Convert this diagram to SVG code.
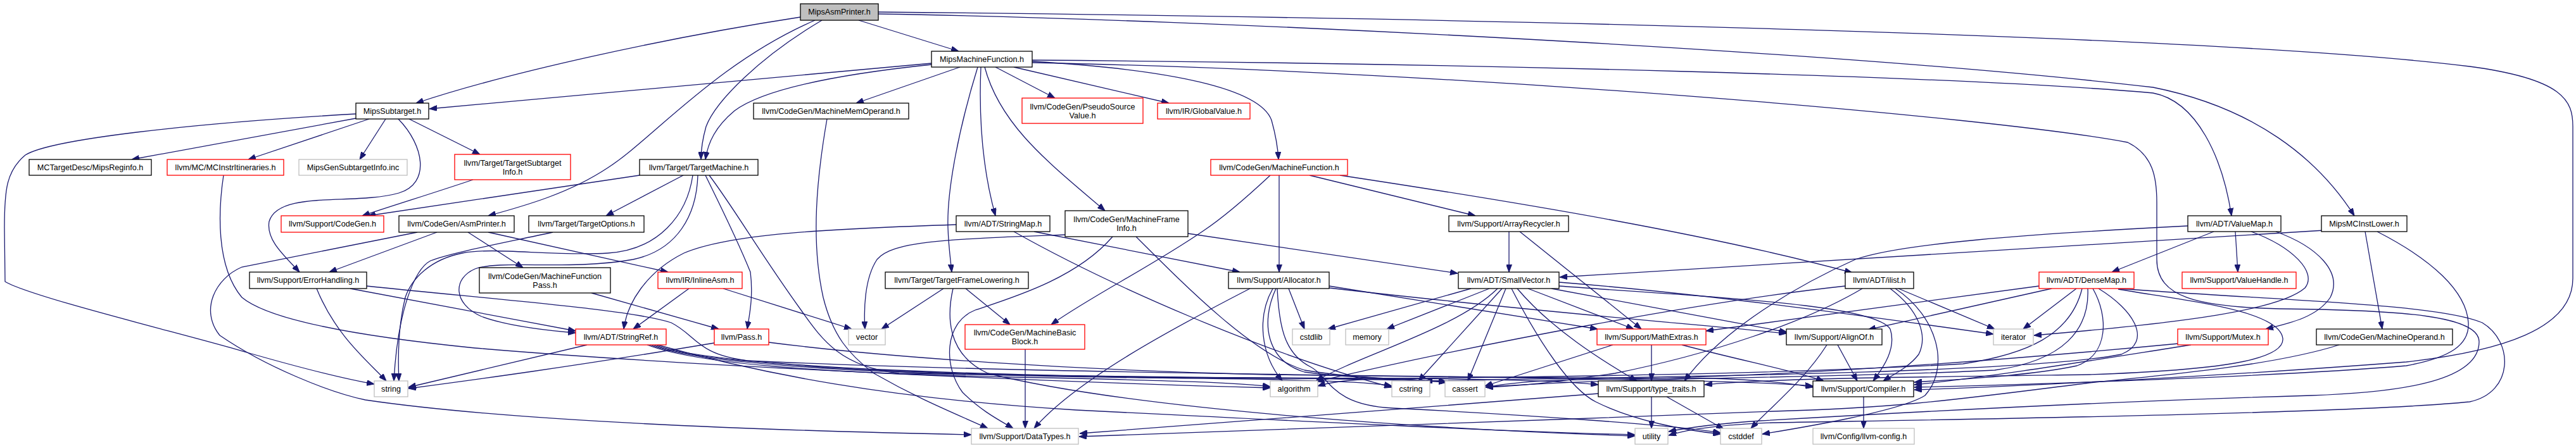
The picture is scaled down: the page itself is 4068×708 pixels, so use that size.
<svg xmlns="http://www.w3.org/2000/svg" width="4068" height="708" viewBox="0 0 4068 708">
<style>
.e{fill:none;stroke:#191970;stroke-width:1.3;marker-end:url(#arr)}
rect{stroke-width:1.3}
.k rect{fill:#fff;stroke:#000}
.r rect{fill:#fff;stroke:#f00}
.g rect{fill:#fff;stroke:#bfbfbf}
.root rect{fill:#bfbfbf;stroke:#000}
text{font-family:"Liberation Sans",Arial,Helvetica,sans-serif;font-size:12.6px;text-anchor:middle;fill:#000}
</style>
<defs>
<marker id="arr" markerWidth="12" markerHeight="9" refX="12" refY="4.5" orient="auto" markerUnits="userSpaceOnUse"><path d="M0,0 L12,4.5 L0,9 z" fill="#191970" stroke="#191970" stroke-width="1"/></marker>
</defs>
<rect x="0" y="0" width="4068" height="708" fill="#fff"/>
<g id="edges">
<path class="e" d="M1264,27 C1050,60 800,115 657,163"/>
<path class="e" d="M1356,32 L1514,81"/>
<path class="e" d="M1287,32 C1130,100 1030,220 960,265 C900,305 830,325 771,341"/>
<path class="e" d="M1298,32 C1200,90 1130,160 1115,200 C1108,225 1107,238 1107,252"/>
<path class="e" d="M1387,22 C1900,30 2900,80 3400,138 C3560,170 3660,250 3718,341"/>
<path class="e" d="M1387,19 C2300,28 3500,55 3900,105 C4050,125 4063,160 4063,200 L4063,440 C4063,520 3950,555 3800,572 C3500,595 3200,610 3023,616"/>
<path class="e" d="M1471,100 L678,172"/>
<path class="e" d="M1471,102 C1300,120 1200,145 1160,175 C1130,200 1118,225 1114,252"/>
<path class="e" d="M1516,106 L1352,163"/>
<path class="e" d="M1549,106 C1545,200 1555,280 1572,341"/>
<path class="e" d="M1544,106 C1515,200 1495,300 1497,360 C1498,390 1501,410 1503,430"/>
<path class="e" d="M1555,106 C1580,200 1660,260 1745,333"/>
<path class="e" d="M1572,106 L1666,155"/>
<path class="e" d="M1601,106 L1846,163"/>
<path class="e" d="M1630,97 C1850,110 1990,140 2008,190 C2015,215 2018,235 2019,252"/>
<path class="e" d="M1630,95 C2300,100 3100,120 3400,147 C3470,160 3510,250 3524,341"/>
<path class="e" d="M1630,99 C2300,112 3150,185 3360,225 C3400,245 3406,280 3406,320 L3406,410 C3406,470 3470,485 3600,488 C3800,490 3915,500 3915,540 C3915,600 3800,620 3650,625 C3300,635 2950,655 2780,665 C2720,669 2670,675 2635,682"/>
<path class="e" d="M562,187 L208,252"/>
<path class="e" d="M583,188 L392,252"/>
<path class="e" d="M609,188 L568,252"/>
<path class="e" d="M646,188 L758,244"/>
<path class="e" d="M629,188 C670,230 680,290 630,305 C560,325 440,300 425,350 C420,380 450,405 473,430"/>
<path class="e" d="M562,180 C300,195 80,220 40,245 C10,270 7,300 7,360 L8,445 C50,470 300,530 390,557 C470,580 540,598 591,607"/>
<path class="e" d="M353,277 C345,330 340,420 382,470 C430,510 600,535 750,550 C1100,580 1700,605 2006,613"/>
<path class="e" d="M747,284 C700,300 620,325 572,341"/>
<path class="e" d="M1010,277 L581,341"/>
<path class="e" d="M1079,277 L957,341"/>
<path class="e" d="M1102,277 C1100,340 1070,395 1000,410 C900,428 790,410 750,425 C715,440 715,480 760,500 C800,515 860,522 909,526"/>
<path class="e" d="M1094,277 C1085,340 1040,395 960,400 C870,405 780,390 730,400 C680,410 650,440 640,470 C630,510 628,560 630,602"/>
<path class="e" d="M1114,277 C1140,330 1165,380 1185,430 C1190,470 1183,500 1180,520"/>
<path class="e" d="M1120,277 C1160,330 1200,400 1265,490 C1300,540 1330,580 1420,590 C1800,597 2200,597 2284,604"/>
<path class="e" d="M690,367 L520,430"/>
<path class="e" d="M659,367 L382,422 C340,440 315,490 347,530 C420,580 520,620 577,632 C800,665 1200,680 1534,687"/>
<path class="e" d="M739,367 L826,423"/>
<path class="e" d="M771,367 L1055,430"/>
<path class="e" d="M873,367 C790,385 710,400 680,412 C655,425 628,490 622,602"/>
<path class="e" d="M500,456 C530,530 580,570 610,602"/>
<path class="e" d="M553,456 L909,523"/>
<path class="e" d="M579,452 C800,475 1000,490 1060,510 C1100,530 1100,560 1180,570 C1600,590 2400,597 2700,598 C2780,600 2830,606 2863,612"/>
<path class="e" d="M934,463 L1135,520"/>
<path class="e" d="M1088,456 L1000,520"/>
<path class="e" d="M1142,456 L1345,520"/>
<path class="e" d="M927,545 L645,612"/>
<path class="e" d="M1022,545 C1100,575 1300,590 1600,596 C1850,601 1960,605 2006,611"/>
<path class="e" d="M1026,545 C1110,578 1400,592 1800,597 C2050,599 2160,603 2198,610"/>
<path class="e" d="M1030,545 C1120,580 1500,594 1900,597 C2150,599 2240,598 2285,604"/>
<path class="e" d="M1034,545 C1130,582 1600,596 2000,597 C2300,598 2450,600 2524,608"/>
<path class="e" d="M1038,545 C1200,590 1400,630 1700,648 C2100,668 2400,683 2582,687"/>
<path class="e" d="M1128,542 C900,580 750,600 645,614"/>
<path class="e" d="M1214,541 C1400,565 1700,585 2000,592 C2400,597 2750,600 2863,610"/>
<path class="e" d="M1490,456 L1392,520"/>
<path class="e" d="M1525,456 L1595,513"/>
<path class="e" d="M1505,456 C1495,500 1495,560 1560,590 C1800,650 2300,680 2582,689"/>
<path class="e" d="M1682,371 C1500,378 1410,380 1385,410 C1365,440 1364,490 1366,520"/>
<path class="e" d="M1757,374 C1700,440 1600,470 1540,490 C1490,510 1490,580 1520,620 C1550,650 1580,665 1600,677"/>
<path class="e" d="M1794,374 C1880,460 1980,560 2060,585 C2150,600 2240,598 2285,604"/>
<path class="e" d="M1876,369 L2302,432"/>
<path class="e" d="M1510,355 C1300,362 1150,370 1080,400 C1020,430 990,480 985,520"/>
<path class="e" d="M1633,366 L1958,430"/>
<path class="e" d="M1601,366 C1750,450 2000,560 2198,612"/>
<path class="e" d="M2006,277 C1960,320 1930,345 1900,365 C1820,420 1720,470 1660,513"/>
<path class="e" d="M2020,277 L2020,430"/>
<path class="e" d="M2068,277 L2330,341"/>
<path class="e" d="M2116,277 C2400,320 2700,370 2925,431"/>
<path class="e" d="M2383,366 L2383,430"/>
<path class="e" d="M2400,366 L2592,520"/>
<path class="e" d="M3496,366 L3335,430"/>
<path class="e" d="M3530,366 L3534,430"/>
<path class="e" d="M3555,366 C3620,390 3660,430 3640,455 C3600,490 3450,510 3212,530"/>
<path class="e" d="M3594,366 C3660,390 3700,430 3680,470 C3660,500 3620,510 3578,520"/>
<path class="e" d="M3455,357 C3200,370 3000,385 2930,410 C2840,450 2720,520 2660,602"/>
<path class="e" d="M3735,366 L3762,520"/>
<path class="e" d="M3670,364 L2463,438"/>
<path class="e" d="M3754,366 C3840,410 3895,460 3898,510 C3900,545 3870,565 3800,578 C3600,595 3200,608 3023,612"/>
<path class="e" d="M2323,456 L2097,520"/>
<path class="e" d="M2352,456 L2190,520"/>
<path class="e" d="M2365,456 C2300,520 2150,560 2078,602"/>
<path class="e" d="M2372,456 L2240,602"/>
<path class="e" d="M2378,456 L2318,602"/>
<path class="e" d="M2387,456 C2430,540 2480,615 2520,635 C2580,665 2660,680 2717,686"/>
<path class="e" d="M2396,456 C2450,520 2530,570 2585,602"/>
<path class="e" d="M2413,456 L2580,520"/>
<path class="e" d="M2450,456 L2822,525"/>
<path class="e" d="M2462,446 C2700,465 2950,500 3148,528"/>
<path class="e" d="M2462,452 C2700,470 2960,480 2985,520 C2995,550 2975,580 2958,602"/>
<path class="e" d="M2914,452 C2700,475 2350,540 2079,603"/>
<path class="e" d="M2941,456 C2850,510 2700,560 2550,590 C2450,605 2400,610 2346,612"/>
<path class="e" d="M2985,456 C3030,490 3045,530 3030,560 C3015,580 2990,592 2974,602"/>
<path class="e" d="M2993,456 C3060,500 3080,580 3040,625 C3000,650 2850,675 2783,686"/>
<path class="e" d="M2998,456 L3150,520"/>
<path class="e" d="M3240,456 L2950,521"/>
<path class="e" d="M3220,452 L2694,523"/>
<path class="e" d="M3279,456 L3195,520"/>
<path class="e" d="M3288,456 C3270,530 3200,560 3100,575 C2800,592 2400,596 2200,598 C2130,599 2100,604 2081,610"/>
<path class="e" d="M3297,456 C3300,520 3260,570 3150,585 C2900,598 2550,596 2346,612"/>
<path class="e" d="M3305,456 C3330,500 3330,560 3280,578 C3200,595 3080,600 3023,604"/>
<path class="e" d="M3314,456 C3370,490 3400,540 3350,560 C3200,590 2600,596 2250,602"/>
<path class="e" d="M3345,456 C3600,475 3850,480 3920,510 C3970,540 3970,620 3900,635 C3700,655 3000,664 2800,668 C2720,671 2670,677 2635,688"/>
<path class="e" d="M3345,457 C3450,475 3600,490 3605,535 C3608,570 3500,585 3300,592 C3000,596 2800,598 2692,608"/>
<path class="e" d="M1619,552 L1619,677"/>
<path class="e" d="M1974,456 C1850,520 1700,600 1633,677"/>
<path class="e" d="M2010,456 C1985,500 1990,560 2025,602"/>
<path class="e" d="M2015,456 C1990,510 2000,570 2060,588 C2150,600 2230,598 2284,604"/>
<path class="e" d="M2035,456 L2060,520"/>
<path class="e" d="M2099,452 L2523,520"/>
<path class="e" d="M2099,455 C2400,490 2650,510 2821,527"/>
<path class="e" d="M2017,456 C2020,520 2030,560 2070,580 C2100,595 2100,640 2200,645 C2400,655 2650,672 2717,684"/>
<path class="e" d="M2608,545 L2608,602"/>
<path class="e" d="M2547,545 L2345,610"/>
<path class="e" d="M2656,545 C2750,570 2830,585 2880,602"/>
<path class="e" d="M2524,622 C2300,640 1900,670 1705,685"/>
<path class="e" d="M2608,627 L2608,677"/>
<path class="e" d="M2632,627 L2722,678"/>
<path class="e" d="M2902,545 L2933,602"/>
<path class="e" d="M2885,545 C2850,600 2800,640 2765,677"/>
<path class="e" d="M2943,627 L2943,677"/>
<path class="e" d="M3460,545 C3300,570 3150,595 3023,608"/>
<path class="e" d="M3440,543 C3000,585 2700,598 2500,600 C2420,601 2380,606 2346,612"/>
<path class="e" d="M3694,545 C3600,575 3450,590 3300,605 C3100,630 3000,645 2800,650 C2400,665 1900,685 1704,690"/>
<path class="e" d="M1306,188 C1290,280 1280,380 1300,470 C1315,530 1340,560 1380,590 C1450,630 1500,650 1560,677"/>
</g>
<g id="n_MipsAsmPrinter" class="root"><rect x="1264" y="6" width="123" height="26"/><text x="1325.5" y="23.3">MipsAsmPrinter.h</text></g>
<g id="n_MipsMachineFunction" class="k"><rect x="1471" y="81" width="159" height="25"/><text x="1550.5" y="97.8">MipsMachineFunction.h</text></g>
<g id="n_MipsSubtarget" class="k"><rect x="562" y="163" width="115" height="25"/><text x="619.5" y="179.8">MipsSubtarget.h</text></g>
<g id="n_MipsReginfo" class="k"><rect x="46" y="252" width="193" height="25"/><text x="142.5" y="268.8">MCTargetDesc/MipsReginfo.h</text></g>
<g id="n_MCInstrItineraries" class="r"><rect x="264" y="252" width="184" height="25"/><text x="356" y="268.8">llvm/MC/MCInstrItineraries.h</text></g>
<g id="n_MipsGenSubtargetInfo" class="g"><rect x="472" y="252" width="171" height="25"/><text x="557.5" y="268.8">MipsGenSubtargetInfo.inc</text></g>
<g id="n_TargetSubtargetInfo" class="r"><rect x="718" y="244" width="183" height="40"/><text x="809.5" y="261.5">llvm/Target/TargetSubtarget</text><text x="809.5" y="275.5">Info.h</text></g>
<g id="n_TargetMachine" class="k"><rect x="1010" y="252" width="187" height="25"/><text x="1103.5" y="268.8">llvm/Target/TargetMachine.h</text></g>
<g id="n_MachineMemOperand" class="k"><rect x="1190" y="163" width="245" height="25"/><text x="1312.5" y="179.8">llvm/CodeGen/MachineMemOperand.h</text></g>
<g id="n_PseudoSourceValue" class="r"><rect x="1614" y="155" width="191" height="40"/><text x="1709.5" y="172.5">llvm/CodeGen/PseudoSource</text><text x="1709.5" y="186.5">Value.h</text></g>
<g id="n_GlobalValue" class="r"><rect x="1828" y="163" width="146" height="25"/><text x="1901" y="179.8">llvm/IR/GlobalValue.h</text></g>
<g id="n_MachineFunction" class="r"><rect x="1912" y="252" width="216" height="25"/><text x="2020" y="268.8">llvm/CodeGen/MachineFunction.h</text></g>
<g id="n_CodeGen" class="r"><rect x="444" y="341" width="162" height="26"/><text x="525" y="358.3">llvm/Support/CodeGen.h</text></g>
<g id="n_AsmPrinter" class="k"><rect x="630" y="341" width="182" height="26"/><text x="721" y="358.3">llvm/CodeGen/AsmPrinter.h</text></g>
<g id="n_TargetOptions" class="k"><rect x="835" y="341" width="182" height="26"/><text x="926" y="358.3">llvm/Target/TargetOptions.h</text></g>
<g id="n_StringMap" class="k"><rect x="1510" y="341" width="148" height="25"/><text x="1584" y="357.8">llvm/ADT/StringMap.h</text></g>
<g id="n_MachineFrameInfo" class="k"><rect x="1682" y="333" width="194" height="41"/><text x="1779" y="351">llvm/CodeGen/MachineFrame</text><text x="1779" y="365">Info.h</text></g>
<g id="n_ArrayRecycler" class="k"><rect x="2288" y="341" width="189" height="25"/><text x="2382.5" y="357.8">llvm/Support/ArrayRecycler.h</text></g>
<g id="n_ValueMap" class="k"><rect x="3455" y="341" width="147" height="25"/><text x="3528.5" y="357.8">llvm/ADT/ValueMap.h</text></g>
<g id="n_MipsMCInstLower" class="k"><rect x="3666" y="341" width="135" height="25"/><text x="3733.5" y="357.8">MipsMCInstLower.h</text></g>
<g id="n_ErrorHandling" class="k"><rect x="394" y="430" width="185" height="26"/><text x="486.5" y="447.3">llvm/Support/ErrorHandling.h</text></g>
<g id="n_MachineFunctionPass" class="k"><rect x="757" y="423" width="207" height="40"/><text x="860.5" y="440.5">llvm/CodeGen/MachineFunction</text><text x="860.5" y="454.5">Pass.h</text></g>
<g id="n_InlineAsm" class="r"><rect x="1039" y="430" width="133" height="26"/><text x="1105.5" y="447.3">llvm/IR/InlineAsm.h</text></g>
<g id="n_TargetFrameLowering" class="k"><rect x="1398" y="430" width="226" height="26"/><text x="1511" y="447.3">llvm/Target/TargetFrameLowering.h</text></g>
<g id="n_Allocator" class="k"><rect x="1940" y="430" width="159" height="26"/><text x="2019.5" y="447.3">llvm/Support/Allocator.h</text></g>
<g id="n_SmallVector" class="k"><rect x="2303" y="430" width="159" height="26"/><text x="2382.5" y="447.3">llvm/ADT/SmallVector.h</text></g>
<g id="n_ilist" class="k"><rect x="2914" y="430" width="108" height="26"/><text x="2968" y="447.3">llvm/ADT/ilist.h</text></g>
<g id="n_DenseMap" class="r"><rect x="3220" y="430" width="150" height="26"/><text x="3295" y="447.3">llvm/ADT/DenseMap.h</text></g>
<g id="n_ValueHandle" class="r"><rect x="3446" y="430" width="180" height="26"/><text x="3536" y="447.3">llvm/Support/ValueHandle.h</text></g>
<g id="n_StringRef" class="r"><rect x="909" y="520" width="143" height="25"/><text x="980.5" y="536.8">llvm/ADT/StringRef.h</text></g>
<g id="n_Pass" class="r"><rect x="1128" y="520" width="86" height="25"/><text x="1171" y="536.8">llvm/Pass.h</text></g>
<g id="n_vector" class="g"><rect x="1340" y="520" width="58" height="25"/><text x="1369" y="536.8">vector</text></g>
<g id="n_MachineBasicBlock" class="r"><rect x="1524" y="513" width="189" height="39"/><text x="1618.5" y="530">llvm/CodeGen/MachineBasic</text><text x="1618.5" y="544">Block.h</text></g>
<g id="n_cstdlib" class="g"><rect x="2041" y="520" width="59" height="25"/><text x="2070.5" y="536.8">cstdlib</text></g>
<g id="n_memory" class="g"><rect x="2125" y="520" width="68" height="25"/><text x="2159" y="536.8">memory</text></g>
<g id="n_MathExtras" class="r"><rect x="2522" y="520" width="172" height="25"/><text x="2608" y="536.8">llvm/Support/MathExtras.h</text></g>
<g id="n_AlignOf" class="k"><rect x="2821" y="520" width="151" height="25"/><text x="2896.5" y="536.8">llvm/Support/AlignOf.h</text></g>
<g id="n_iterator" class="g"><rect x="3148" y="520" width="63" height="25"/><text x="3179.5" y="536.8">iterator</text></g>
<g id="n_Mutex" class="r"><rect x="3439" y="520" width="143" height="25"/><text x="3510.5" y="536.8">llvm/Support/Mutex.h</text></g>
<g id="n_MachineOperand" class="k"><rect x="3658" y="520" width="215" height="25"/><text x="3765.5" y="536.8">llvm/CodeGen/MachineOperand.h</text></g>
<g id="n_string" class="g"><rect x="591" y="602" width="53" height="25"/><text x="617.5" y="618.8">string</text></g>
<g id="n_algorithm" class="g"><rect x="2006" y="602" width="75" height="25"/><text x="2043.5" y="618.8">algorithm</text></g>
<g id="n_cstring" class="g"><rect x="2198" y="602" width="60" height="25"/><text x="2228" y="618.8">cstring</text></g>
<g id="n_cassert" class="g"><rect x="2282" y="602" width="63" height="25"/><text x="2313.5" y="618.8">cassert</text></g>
<g id="n_type_traits" class="k"><rect x="2524" y="602" width="167" height="25"/><text x="2607.5" y="618.8">llvm/Support/type_traits.h</text></g>
<g id="n_Compiler" class="k"><rect x="2863" y="602" width="159" height="25"/><text x="2942.5" y="618.8">llvm/Support/Compiler.h</text></g>
<g id="n_DataTypes" class="g"><rect x="1534" y="677" width="169" height="25"/><text x="1618.5" y="693.8">llvm/Support/DataTypes.h</text></g>
<g id="n_utility" class="g"><rect x="2582" y="677" width="52" height="25"/><text x="2608" y="693.8">utility</text></g>
<g id="n_cstddef" class="g"><rect x="2717" y="677" width="65" height="25"/><text x="2749.5" y="693.8">cstddef</text></g>
<g id="n_llvm_config" class="g"><rect x="2863" y="677" width="160" height="25"/><text x="2943" y="693.8">llvm/Config/llvm-config.h</text></g>
</svg>
